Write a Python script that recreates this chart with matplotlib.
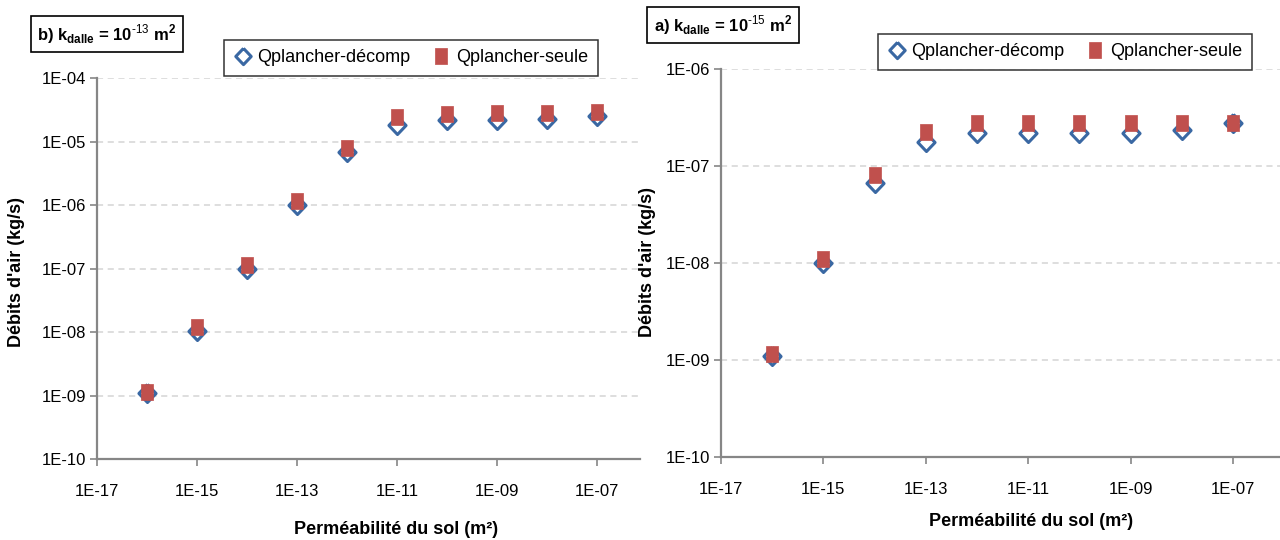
import numpy as np
import matplotlib
matplotlib.use("Agg")
import matplotlib.pyplot as plt
from matplotlib.ticker import FixedLocator, FuncFormatter, NullLocator

plt.rcParams['font.family'] = ['Liberation Sans', 'DejaVu Sans']
plt.rcParams['mathtext.fontset'] = 'custom'
plt.rcParams['mathtext.rm'] = 'Liberation Sans'
plt.rcParams['mathtext.bf'] = 'Liberation Sans:bold'

# soil permeability (m2)
k_sol = [1e-16, 1e-15, 1e-14, 1e-13, 1e-12, 1e-11, 1e-10, 1e-09, 1e-08, 1e-07]

# panel b) k_dalle = 1e-13 m2
b_decomp = [1.1e-9, 1.05e-8, 1.0e-7, 1.0e-6, 6.9e-6, 1.8e-5, 2.15e-5, 2.2e-5, 2.3e-5, 2.5e-5]
b_seule = [1.15e-9, 1.2e-8, 1.15e-7, 1.15e-6, 8.0e-6, 2.4e-5, 2.7e-5, 2.85e-5, 2.85e-5, 2.9e-5]

# panel a) k_dalle = 1e-15 m2
a_decomp = [1.1e-9, 1.0e-8, 6.7e-8, 1.78e-7, 2.2e-7, 2.2e-7, 2.2e-7, 2.2e-7, 2.35e-7, 2.75e-7]
a_seule = [1.15e-9, 1.1e-8, 8.1e-8, 2.26e-7, 2.8e-7, 2.8e-7, 2.8e-7, 2.8e-7, 2.8e-7, 2.75e-7]

lab_decomp = "Qplancher-décomp"
lab_seule = "Qplancher-seule"
xlabel = "Perméabilité du sol (m²)"
ylabel = "Débits d'air (kg/s)"

blue = '#3A68A3'
red = '#C0504D'
grey = '#868686'

diamond = [(0, 1.05), (1, 0), (0, -1.05), (-1, 0), (0, 1.05)]
rect = [(-0.76, -1), (0.76, -1), (0.76, 1), (-0.76, 1), (-0.76, -1)]

W, H = 1280, 540
fig = plt.figure(figsize=(W / 100, H / 100), dpi=100)


def fmt(v, pos):
    e = int(round(np.log10(v)))
    return "1E-%02d" % (-e) if e < 0 else "1E+%02d" % e


def panel(box, xmax, ymax, decomp, seule):
    l, t, r, b = box
    ax = fig.add_axes([l / W, 1 - b / H, (r - l) / W, (b - t) / H])
    ax.set_xscale('log')
    ax.set_yscale('log')
    ax.set_xlim(1e-17, xmax)
    ax.set_ylim(1e-10, ymax)
    ax.plot(k_sol, decomp, linestyle='none', marker=diamond, markersize=13,
            markerfacecolor='none', markeredgecolor=blue, markeredgewidth=2.2,
            label=lab_decomp, zorder=3, clip_on=False)
    ax.plot(k_sol, seule, linestyle='none', marker=rect, markersize=12.2,
            markerfacecolor=red, markeredgecolor=red, markeredgewidth=0.5,
            label=lab_seule, zorder=4, clip_on=False)
    ax.xaxis.set_major_locator(FixedLocator([10.0 ** e for e in range(-17, -6, 2)]))
    ax.xaxis.set_minor_locator(NullLocator())
    ax.yaxis.set_major_locator(FixedLocator([10.0 ** e for e in range(-10, int(np.log10(ymax)) + 1)]))
    ax.yaxis.set_minor_locator(NullLocator())
    ax.xaxis.set_major_formatter(FuncFormatter(fmt))
    ax.yaxis.set_major_formatter(FuncFormatter(fmt))
    ax.grid(axis='y', color='#D4D4D4', linestyle=(0, (4, 3)), linewidth=1.1)
    ax.set_axisbelow(True)
    for s in ('top', 'right'):
        ax.spines[s].set_visible(False)
    for s in ('left', 'bottom'):
        ax.spines[s].set_color(grey)
        ax.spines[s].set_linewidth(1.6)
    ax.tick_params(axis='both', colors=grey, length=5, width=1.2, labelsize=12,
                   labelcolor='black')
    ax.tick_params(axis='x', pad=13)
    ax.tick_params(axis='y', pad=3)
    return ax


ax_b = panel((97, 78, 640, 459), 10 ** -6.14, 1e-4, b_decomp, b_seule)
ax_a = panel((721, 69, 1280, 457), 10 ** -6.08, 1e-6, a_decomp, a_seule)

# titles in boxes
box_style = dict(boxstyle='square,pad=0.4', facecolor='white', edgecolor='black', linewidth=1.2)
fig.text(107 / W, 1 - 34 / H, r"b) k$_{\mathbf{dalle}}$ = 10$^{\text{-13}}$ m$^{\mathbf{2}}$",
         ha='center', va='center', fontsize=12, fontweight='bold', bbox=box_style)
fig.text(723 / W, 1 - 25 / H, r"a) k$_{\mathbf{dalle}}$ = 10$^{\text{-15}}$ m$^{\mathbf{2}}$",
         ha='center', va='center', fontsize=12, fontweight='bold', bbox=box_style)

# legends
for ax, cx, cy in ((ax_b, 411, 58), (ax_a, 1065, 52)):
    leg = fig.legend(*ax.get_legend_handles_labels(), loc='center',
                     bbox_to_anchor=(cx / W, 1 - cy / H), ncol=2, fontsize=13,
                     frameon=True, fancybox=False, edgecolor='black',
                     handletextpad=0.3, columnspacing=1.2, handlelength=1.0,
                     borderpad=0.55, markerscale=0.9)
    leg.get_frame().set_linewidth(1.1)

# axis titles
fig.text(17 / W, 1 - 272 / H, ylabel, rotation=90, ha='center', va='center',
         fontsize=13, fontweight='bold')
fig.text(647 / W, 1 - 262 / H, ylabel, rotation=90, ha='center', va='center',
         fontsize=13, fontweight='bold')
fig.text(396 / W, 1 - 530 / H, xlabel, ha='center', va='center',
         fontsize=13, fontweight='bold')
fig.text(1031 / W, 1 - 522 / H, xlabel, ha='center', va='center',
         fontsize=13, fontweight='bold')

fig.savefig('out.png', dpi=100)
